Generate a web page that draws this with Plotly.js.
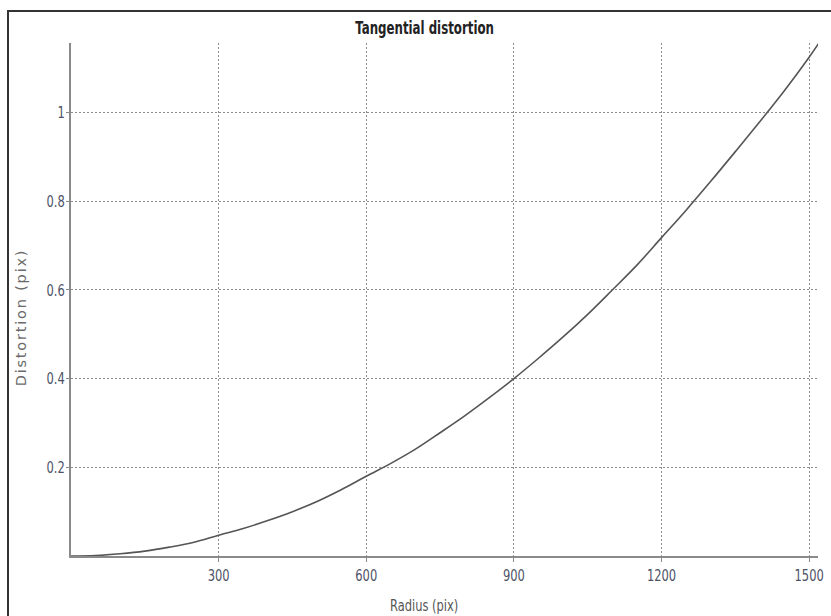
<!DOCTYPE html>
<html>
<head>
<meta charset="utf-8">
<script src="https://cdn.plot.ly/plotly-3.0.1.min.js"></script>
<style>
  html, body { margin: 0; padding: 0; background: #fff; }
  #wrap { position: relative; width: 831px; height: 616px; overflow: hidden; }
  #chart { position: absolute; left: 0; top: 0; width: 831px; height: 616px; }
  #frame { position: absolute; left: 7px; top: 10px; width: 830px; height: 620px;
           border-top: 2px solid #333; border-left: 2px solid #333; pointer-events: none; }
</style>
</head>
<body>
<div id="wrap">
  <div id="chart"></div>
  <div id="frame"></div>
</div>
<script>
const radius = [0, 50, 100, 150, 200, 250, 300, 350, 400, 450, 500, 550, 600, 650, 700, 750, 800, 850, 900, 950, 1000, 1050, 1100, 1150, 1200, 1250, 1300, 1350, 1400, 1450, 1500, 1520];
const distortion = [0, 0.001, 0.005, 0.011, 0.02, 0.031, 0.047, 0.062, 0.08, 0.100, 0.123, 0.150, 0.180, 0.209, 0.241, 0.278, 0.316, 0.357, 0.400, 0.446, 0.494, 0.545, 0.600, 0.656, 0.718, 0.780, 0.845, 0.912, 0.980, 1.050, 1.125, 1.157];
const xTicks = [300, 600, 900, 1200, 1500];
const xTickLabels = ['300', '600', '900', '1200', '1500'];
const yTicks = [0.2, 0.4, 0.6, 0.8, 1];
const yTickLabels = ['0.2', '0.4', '0.6', '0.8', '1'];

const narrow = '"DejaVu Sans Condensed", "Liberation Sans Narrow", Arial, sans-serif';

const trace = {
  x: radius, y: distortion, type: 'scatter', mode: 'lines',
  line: { color: '#555', width: 1.6, shape: 'spline' },
  hoverinfo: 'skip'
};

const axisCommon = {
  showgrid: true, griddash: '2px,2px', gridcolor: '#8c8c8c', gridwidth: 1,
  showline: true, linecolor: '#8a8a8a', linewidth: 2,
  ticks: 'outside', ticklen: 3, tickcolor: '#8a8a8a', tickwidth: 1,
  zeroline: false, tickmode: 'array',
  tickfont: { family: narrow, size: 16, color: '#4d5266' }
};

const layout = {
  width: 831, height: 616,
  margin: { l: 71, r: 13, t: 43, b: 60 },
  paper_bgcolor: '#fff', plot_bgcolor: '#fff',
  showlegend: false,
  title: { text: '<b>Tangential distortion</b>', x: 0.511, xanchor: 'center', y: 0.955, yanchor: 'middle',
           font: { family: narrow, size: 17.5, color: '#222' } },
  xaxis: Object.assign({}, axisCommon, { range: [0, 1518], tickvals: xTicks, ticktext: xTickLabels, ticklen: 4 }),
  yaxis: Object.assign({}, axisCommon, { range: [0, 1.157], tickvals: yTicks, ticktext: yTickLabels, ticklabelstandoff: -2 }),
  annotations: [
    { text: 'Distortion (pix)', xref: 'paper', yref: 'paper', x: -0.067, y: 0.466,
      xanchor: 'center', yanchor: 'middle', textangle: -90, showarrow: false,
      font: { family: '"DejaVu Sans", Verdana, sans-serif', size: 14.5, color: '#6a6a6a' } },
    { text: 'Radius (pix)', xref: 'paper', yref: 'paper', x: 0.473, y: -0.098,
      xanchor: 'center', yanchor: 'middle', showarrow: false,
      font: { family: narrow, size: 15, color: '#555' } }
  ]
};

function condense(el, sx) {
  const X = parseFloat(el.getAttribute('x') || '0');
  const t = el.getAttribute('transform') || '';
  el.setAttribute('transform', t + ' translate(' + X + ',0) scale(' + sx + ',1) translate(' + (-X) + ',0)');
}

Plotly.newPlot('chart', [trace], layout, { displayModeBar: false, staticPlot: true }).then(function (gd) {
  gd.querySelectorAll('.xtick text, .ytick text').forEach(function (el) { condense(el, 0.8); });
  const title = gd.querySelector('.gtitle');
  if (title) condense(title, 0.75);
  const anns = gd.querySelectorAll('.annotation-text');
  anns.forEach(function (el) {
    if (el.textContent.indexOf('Distortion') === 0) {
      el.style.letterSpacing = '1.8px';
    } else {
      condense(el, 0.85);
    }
  });
});
</script>
</body>
</html>
